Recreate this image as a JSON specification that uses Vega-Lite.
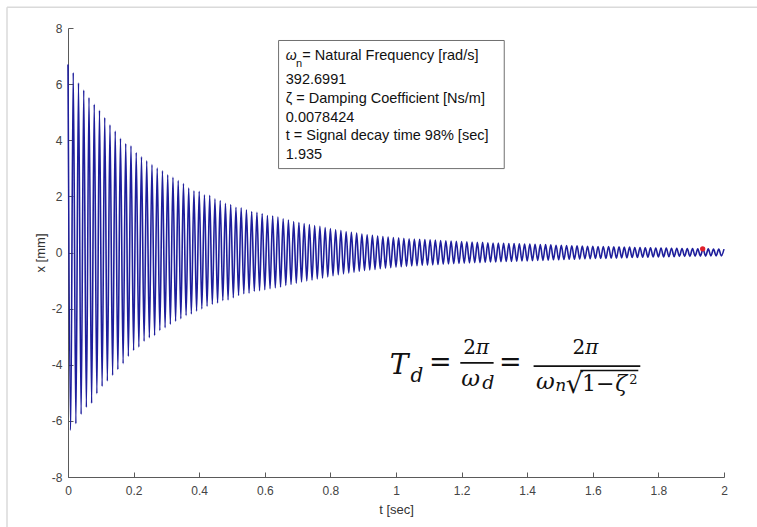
{
  "$schema": "https://vega.github.io/schema/vega-lite/v6.json",
  "width": 656,
  "height": 449,
  "autosize": {"type": "none"},
  "padding": {"left": 68, "top": 28, "right": 33, "bottom": 50},
  "background": "white",
  "config": {"view": {"stroke": null}, "font": "Liberation Sans"},
  "datasets": {
    "signal": [
      {"t":0,"x":6.70},{"t":0.008,"x":-6.34},{"t":0.016,"x":6.41},{"t":0.024,"x":-6.10},{"t":0.032,"x":6.05},{"t":0.040,"x":-5.77},{"t":0.048,"x":5.79},{"t":0.056,"x":-5.52},{"t":0.064,"x":5.52},{"t":0.072,"x":-5.37},
      {"t":0.080,"x":5.28},{"t":0.088,"x":-5.03},{"t":0.096,"x":5.07},{"t":0.104,"x":-4.77},{"t":0.112,"x":4.81},{"t":0.120,"x":-4.58},{"t":0.128,"x":4.55},{"t":0.136,"x":-4.38},{"t":0.144,"x":4.33},{"t":0.152,"x":-4.17},
      {"t":0.160,"x":4.07},{"t":0.168,"x":-3.96},{"t":0.176,"x":3.88},{"t":0.184,"x":-3.70},{"t":0.192,"x":3.80},{"t":0.200,"x":-3.49},{"t":0.208,"x":3.56},{"t":0.216,"x":-3.37},{"t":0.224,"x":3.41},{"t":0.232,"x":-3.16},
      {"t":0.240,"x":3.27},{"t":0.248,"x":-3.04},{"t":0.256,"x":3.13},{"t":0.264,"x":-2.96},{"t":0.272,"x":3.01},{"t":0.280,"x":-2.78},{"t":0.288,"x":2.91},{"t":0.296,"x":-2.68},{"t":0.304,"x":2.77},{"t":0.312,"x":-2.56},
      {"t":0.320,"x":2.68},{"t":0.328,"x":-2.45},{"t":0.336,"x":2.56},{"t":0.344,"x":-2.36},{"t":0.352,"x":2.46},{"t":0.360,"x":-2.25},{"t":0.368,"x":2.30},{"t":0.376,"x":-2.19},{"t":0.384,"x":2.20},{"t":0.392,"x":-2.09},
      {"t":0.400,"x":2.18},{"t":0.408,"x":-2.01},{"t":0.416,"x":2.06},{"t":0.424,"x":-1.92},{"t":0.432,"x":2.04},{"t":0.440,"x":-1.85},{"t":0.448,"x":1.91},{"t":0.456,"x":-1.80},{"t":0.464,"x":1.85},{"t":0.472,"x":-1.71},
      {"t":0.480,"x":1.75},{"t":0.488,"x":-1.69},{"t":0.496,"x":1.71},{"t":0.504,"x":-1.61},{"t":0.512,"x":1.61},{"t":0.520,"x":-1.53},{"t":0.528,"x":1.59},{"t":0.536,"x":-1.47},{"t":0.544,"x":1.52},{"t":0.552,"x":-1.45},
      {"t":0.560,"x":1.46},{"t":0.568,"x":-1.38},{"t":0.576,"x":1.43},{"t":0.584,"x":-1.36},{"t":0.592,"x":1.38},{"t":0.600,"x":-1.33},{"t":0.608,"x":1.32},{"t":0.616,"x":-1.29},{"t":0.624,"x":1.30},{"t":0.632,"x":-1.26},
      {"t":0.640,"x":1.26},{"t":0.648,"x":-1.23},{"t":0.656,"x":1.20},{"t":0.664,"x":-1.17},{"t":0.672,"x":1.16},{"t":0.680,"x":-1.14},{"t":0.688,"x":1.10},{"t":0.696,"x":-1.09},{"t":0.704,"x":1.07},{"t":0.712,"x":-1.05},
      {"t":0.720,"x":1.03},{"t":0.728,"x":-1.01},{"t":0.736,"x":1.00},{"t":0.744,"x":-0.98},{"t":0.752,"x":0.96},{"t":0.760,"x":-0.94},{"t":0.768,"x":0.93},{"t":0.776,"x":-0.91},{"t":0.784,"x":0.89},{"t":0.792,"x":-0.87},
      {"t":0.800,"x":0.85},{"t":0.808,"x":-0.83},{"t":0.816,"x":0.81},{"t":0.824,"x":-0.79},{"t":0.832,"x":0.78},{"t":0.840,"x":-0.76},{"t":0.848,"x":0.74},{"t":0.856,"x":-0.73},{"t":0.864,"x":0.72},{"t":0.872,"x":-0.70},
      {"t":0.880,"x":0.69},{"t":0.888,"x":-0.67},{"t":0.896,"x":0.66},{"t":0.904,"x":-0.64},{"t":0.912,"x":0.63},{"t":0.920,"x":-0.62},{"t":0.928,"x":0.61},{"t":0.936,"x":-0.60},{"t":0.944,"x":0.59},{"t":0.952,"x":-0.58},
      {"t":0.960,"x":0.57},{"t":0.968,"x":-0.56},{"t":0.976,"x":0.55},{"t":0.984,"x":-0.54},{"t":0.992,"x":0.53},{"t":1.000,"x":-0.52},{"t":1.008,"x":0.52},{"t":1.016,"x":-0.51},{"t":1.024,"x":0.51},{"t":1.032,"x":-0.50},
      {"t":1.040,"x":0.49},{"t":1.048,"x":-0.48},{"t":1.056,"x":0.48},{"t":1.064,"x":-0.47},{"t":1.072,"x":0.47},{"t":1.080,"x":-0.46},{"t":1.088,"x":0.46},{"t":1.096,"x":-0.45},{"t":1.104,"x":0.45},{"t":1.112,"x":-0.44},
      {"t":1.120,"x":0.44},{"t":1.128,"x":-0.43},{"t":1.136,"x":0.43},{"t":1.144,"x":-0.42},{"t":1.152,"x":0.42},{"t":1.160,"x":-0.41},{"t":1.168,"x":0.41},{"t":1.176,"x":-0.40},{"t":1.184,"x":0.40},{"t":1.192,"x":-0.39},
      {"t":1.200,"x":0.39},{"t":1.208,"x":-0.38},{"t":1.216,"x":0.38},{"t":1.224,"x":-0.37},{"t":1.232,"x":0.37},{"t":1.240,"x":-0.36},{"t":1.248,"x":0.36},{"t":1.256,"x":-0.36},{"t":1.264,"x":0.36},{"t":1.272,"x":-0.35},
      {"t":1.280,"x":0.35},{"t":1.288,"x":-0.34},{"t":1.296,"x":0.34},{"t":1.304,"x":-0.34},{"t":1.312,"x":0.34},{"t":1.320,"x":-0.33},{"t":1.328,"x":0.33},{"t":1.336,"x":-0.32},{"t":1.344,"x":0.32},{"t":1.352,"x":-0.32},
      {"t":1.360,"x":0.32},{"t":1.368,"x":-0.31},{"t":1.376,"x":0.31},{"t":1.384,"x":-0.30},{"t":1.392,"x":0.30},{"t":1.400,"x":-0.30},{"t":1.408,"x":0.30},{"t":1.416,"x":-0.29},{"t":1.424,"x":0.29},{"t":1.432,"x":-0.28},
      {"t":1.440,"x":0.28},{"t":1.448,"x":-0.28},{"t":1.456,"x":0.28},{"t":1.464,"x":-0.27},{"t":1.472,"x":0.27},{"t":1.480,"x":-0.26},{"t":1.488,"x":0.26},{"t":1.496,"x":-0.26},{"t":1.504,"x":0.26},{"t":1.512,"x":-0.25},
      {"t":1.520,"x":0.25},{"t":1.528,"x":-0.24},{"t":1.536,"x":0.24},{"t":1.544,"x":-0.24},{"t":1.552,"x":0.24},{"t":1.560,"x":-0.23},{"t":1.568,"x":0.23},{"t":1.576,"x":-0.22},{"t":1.584,"x":0.22},{"t":1.592,"x":-0.22},
      {"t":1.600,"x":0.22},{"t":1.608,"x":-0.21},{"t":1.616,"x":0.21},{"t":1.624,"x":-0.21},{"t":1.632,"x":0.21},{"t":1.640,"x":-0.21},{"t":1.648,"x":0.21},{"t":1.656,"x":-0.20},{"t":1.664,"x":0.20},{"t":1.672,"x":-0.20},
      {"t":1.680,"x":0.20},{"t":1.688,"x":-0.19},{"t":1.696,"x":0.19},{"t":1.704,"x":-0.19},{"t":1.712,"x":0.19},{"t":1.720,"x":-0.18},{"t":1.728,"x":0.18},{"t":1.736,"x":-0.18},{"t":1.744,"x":0.18},{"t":1.752,"x":-0.17},
      {"t":1.760,"x":0.17},{"t":1.768,"x":-0.17},{"t":1.776,"x":0.17},{"t":1.784,"x":-0.16},{"t":1.792,"x":0.16},{"t":1.800,"x":-0.16},{"t":1.808,"x":0.16},{"t":1.816,"x":-0.16},{"t":1.824,"x":0.16},{"t":1.832,"x":-0.15},
      {"t":1.840,"x":0.15},{"t":1.848,"x":-0.15},{"t":1.856,"x":0.15},{"t":1.864,"x":-0.14},{"t":1.872,"x":0.14},{"t":1.880,"x":-0.14},{"t":1.888,"x":0.14},{"t":1.896,"x":-0.14},{"t":1.904,"x":0.14},{"t":1.912,"x":-0.13},
      {"t":1.920,"x":0.13},{"t":1.928,"x":-0.13},{"t":1.936,"x":0.13},{"t":1.944,"x":-0.13},{"t":1.952,"x":0.13},{"t":1.960,"x":-0.12},{"t":1.968,"x":0.12},{"t":1.976,"x":-0.12},{"t":1.984,"x":0.12},{"t":1.992,"x":-0.12},
      {"t":2.000,"x":0.12}
    ],
    "marker": [{"t": 1.935, "x": 0.13}],
    "one": [{}]
  },
  "layer": [
    {
      "data": {"name": "signal"},
      "mark": {"type": "line", "interpolate": "monotone", "color": "#1e1e9c", "strokeWidth": 1.6},
      "encoding": {
        "x": {
          "field": "t", "type": "quantitative",
          "scale": {"domain": [0, 2], "nice": false, "zero": false},
          "axis": {
            "title": "t [sec]", "values": [0, 0.2, 0.4, 0.6, 0.8, 1, 1.2, 1.4, 1.6, 1.8, 2],
            "labelExpr": "'' + datum.value", "grid": false, "tickSize": -5,
            "tickColor": "#5a5a5a", "domainColor": "#5a5a5a", "labelColor": "#444444",
            "labelFont": "Liberation Sans", "labelFontSize": 12, "labelPadding": 13, "labelFlush": false,
            "titleFont": "Liberation Sans", "titleFontSize": 13, "titleFontWeight": "normal", "titleColor": "#333333", "titlePadding": 7
          }
        },
        "y": {
          "field": "x", "type": "quantitative",
          "scale": {"domain": [-8, 8], "nice": false, "zero": false},
          "axis": {
            "title": "x [mm]", "values": [-8, -6, -4, -2, 0, 2, 4, 6, 8],
            "labelExpr": "'' + datum.value", "grid": false, "tickSize": -5,
            "tickColor": "#5a5a5a", "domainColor": "#5a5a5a", "labelColor": "#444444",
            "labelFont": "Liberation Sans", "labelFontSize": 12, "labelPadding": 11, "labelFlush": false,
            "titleFont": "Liberation Sans", "titleFontSize": 13, "titleFontWeight": "normal", "titleColor": "#333333", "titlePadding": 4
          }
        }
      }
    },
    {
      "data": {"name": "one"},
      "mark": {"type": "rule", "color": "#dadada", "strokeWidth": 1.5},
      "encoding": {"x": {"datum": -0.186}, "y": {"datum": -10.5}, "y2": {"datum": 8.742}}
    },
    {
      "data": {"name": "one"},
      "mark": {"type": "rule", "color": "#dadada", "strokeWidth": 1.5},
      "encoding": {"x": {"datum": -0.186}, "x2": {"datum": 2.3}, "y": {"datum": 8.742}}
    },
    {
      "data": {"name": "marker"},
      "mark": {"type": "point", "filled": true, "color": "#e0202c", "size": 28, "opacity": 1},
      "encoding": {"x": {"field": "t", "type": "quantitative"}, "y": {"field": "x", "type": "quantitative"}}
    },
    {
      "data": {"name": "one"},
      "mark": {"type": "rect", "fill": "white", "stroke": "#707070", "strokeWidth": 1},
      "encoding": {"x": {"datum": 0.642}, "x2": {"datum": 1.330}, "y": {"datum": 7.555}, "y2": {"datum": 2.99}}
    },
    {
      "data": {"name": "one"},
      "mark": {"type": "text", "text": "ω", "fontStyle": "italic", "align": "left", "baseline": "middle", "font": "Liberation Sans", "fontSize": 14, "color": "#111111"},
      "encoding": {"x": {"datum": 0.664}, "y": {"datum": 7.02}}
    },
    {
      "data": {"name": "one"},
      "mark": {"type": "text", "text": "n", "align": "left", "baseline": "middle", "font": "Liberation Sans", "fontSize": 11, "color": "#111111"},
      "encoding": {"x": {"datum": 0.6955}, "y": {"datum": 6.72}}
    },
    {
      "data": {"name": "one"},
      "mark": {"type": "text", "text": "= Natural Frequency [rad/s]", "align": "left", "baseline": "middle", "font": "Liberation Sans", "fontSize": 14.5, "color": "#111111"},
      "encoding": {"x": {"datum": 0.7145}, "y": {"datum": 7.02}}
    },
    {
      "data": {"name": "one"},
      "mark": {"type": "text", "text": "392.6991", "align": "left", "baseline": "middle", "font": "Liberation Sans", "fontSize": 14.5, "color": "#111111"},
      "encoding": {"x": {"datum": 0.664}, "y": {"datum": 6.155}}
    },
    {
      "data": {"name": "one"},
      "mark": {"type": "text", "text": "ζ = Damping Coefficient [Ns/m]", "align": "left", "baseline": "middle", "font": "Liberation Sans", "fontSize": 14.5, "color": "#111111"},
      "encoding": {"x": {"datum": 0.664}, "y": {"datum": 5.478}}
    },
    {
      "data": {"name": "one"},
      "mark": {"type": "text", "text": "0.0078424", "align": "left", "baseline": "middle", "font": "Liberation Sans", "fontSize": 14.5, "color": "#111111"},
      "encoding": {"x": {"datum": 0.664}, "y": {"datum": 4.80}}
    },
    {
      "data": {"name": "one"},
      "mark": {"type": "text", "text": "t = Signal decay time 98% [sec]", "align": "left", "baseline": "middle", "font": "Liberation Sans", "fontSize": 14.5, "color": "#111111"},
      "encoding": {"x": {"datum": 0.664}, "y": {"datum": 4.134}}
    },
    {
      "data": {"name": "one"},
      "mark": {"type": "text", "text": "1.935", "align": "left", "baseline": "middle", "font": "Liberation Sans", "fontSize": 14.5, "color": "#111111"},
      "encoding": {"x": {"datum": 0.664}, "y": {"datum": 3.49}}
    },
    {
      "data": {"name": "one"},
      "mark": {"type": "text", "text": "T", "fontStyle": "italic", "align": "left", "baseline": "alphabetic", "font": "DejaVu Serif", "fontSize": 28, "color": "#111111"},
      "encoding": {"x": {"datum": 0.981}, "y": {"datum": -4.323}}
    },
    {
      "data": {"name": "one"},
      "mark": {"type": "text", "text": "d", "fontStyle": "italic", "align": "left", "baseline": "alphabetic", "font": "DejaVu Serif", "fontSize": 20, "color": "#111111"},
      "encoding": {"x": {"datum": 1.044}, "y": {"datum": -4.6}}
    },
    {
      "data": {"name": "one"},
      "mark": {"type": "text", "text": "=", "align": "center", "baseline": "alphabetic", "font": "DejaVu Serif", "fontSize": 27, "color": "#111111"},
      "encoding": {"x": {"datum": 1.1351}, "y": {"datum": -4.227}}
    },
    {
      "data": {"name": "one"},
      "mark": {"type": "text", "text": "2", "align": "right", "baseline": "alphabetic", "font": "DejaVu Serif", "fontSize": 20, "color": "#111111"},
      "encoding": {"x": {"datum": 1.2442}, "y": {"datum": -3.61}}
    },
    {
      "data": {"name": "one"},
      "mark": {"type": "text", "text": "π", "fontStyle": "italic", "align": "left", "baseline": "alphabetic", "font": "DejaVu Serif", "fontSize": 20, "color": "#111111"},
      "encoding": {"x": {"datum": 1.2442}, "y": {"datum": -3.61}}
    },
    {
      "data": {"name": "one"},
      "mark": {"type": "rule", "color": "#111111", "strokeWidth": 1.8},
      "encoding": {"x": {"datum": 1.196}, "x2": {"datum": 1.2976}, "y": {"datum": -3.93}}
    },
    {
      "data": {"name": "one"},
      "mark": {"type": "text", "text": "ω", "fontStyle": "italic", "align": "left", "baseline": "alphabetic", "font": "DejaVu Serif", "fontSize": 23, "color": "#111111"},
      "encoding": {"x": {"datum": 1.1991}, "y": {"datum": -4.74}}
    },
    {
      "data": {"name": "one"},
      "mark": {"type": "text", "text": "d", "fontStyle": "italic", "align": "left", "baseline": "alphabetic", "font": "DejaVu Serif", "fontSize": 19, "color": "#111111"},
      "encoding": {"x": {"datum": 1.2631}, "y": {"datum": -4.858}}
    },
    {
      "data": {"name": "one"},
      "mark": {"type": "text", "text": "=", "align": "center", "baseline": "alphabetic", "font": "DejaVu Serif", "fontSize": 27, "color": "#111111"},
      "encoding": {"x": {"datum": 1.3485}, "y": {"datum": -4.227}}
    },
    {
      "data": {"name": "one"},
      "mark": {"type": "text", "text": "2", "align": "right", "baseline": "alphabetic", "font": "DejaVu Serif", "fontSize": 20, "color": "#111111"},
      "encoding": {"x": {"datum": 1.5772}, "y": {"datum": -3.61}}
    },
    {
      "data": {"name": "one"},
      "mark": {"type": "text", "text": "π", "fontStyle": "italic", "align": "left", "baseline": "alphabetic", "font": "DejaVu Serif", "fontSize": 20, "color": "#111111"},
      "encoding": {"x": {"datum": 1.5772}, "y": {"datum": -3.61}}
    },
    {
      "data": {"name": "one"},
      "mark": {"type": "rule", "color": "#111111", "strokeWidth": 1.8},
      "encoding": {"x": {"datum": 1.4195}, "x2": {"datum": 1.7448}, "y": {"datum": -4.052}}
    },
    {
      "data": {"name": "one"},
      "mark": {"type": "text", "text": "ω", "fontStyle": "italic", "align": "left", "baseline": "alphabetic", "font": "DejaVu Serif", "fontSize": 23, "color": "#111111"},
      "encoding": {"x": {"datum": 1.4269}, "y": {"datum": -4.858}}
    },
    {
      "data": {"name": "one"},
      "mark": {"type": "text", "text": "n", "fontStyle": "italic", "align": "left", "baseline": "alphabetic", "font": "DejaVu Serif", "fontSize": 17, "color": "#111111"},
      "encoding": {"x": {"datum": 1.4856}, "y": {"datum": -4.918}}
    },
    {
      "data": {"name": "one"},
      "mark": {"type": "text", "text": "√", "align": "left", "baseline": "alphabetic", "font": "DejaVu Serif", "fontSize": 27, "color": "#111111"},
      "encoding": {"x": {"datum": 1.5172}, "y": {"datum": -4.989}}
    },
    {
      "data": {"name": "one"},
      "mark": {"type": "rule", "color": "#111111", "strokeWidth": 1.5},
      "encoding": {"x": {"datum": 1.5619}, "x2": {"datum": 1.7387}, "y": {"datum": -4.205}}
    },
    {
      "data": {"name": "one"},
      "mark": {"type": "text", "text": "1−", "align": "left", "baseline": "alphabetic", "font": "DejaVu Serif", "fontSize": 22, "color": "#111111"},
      "encoding": {"x": {"datum": 1.5671}, "y": {"datum": -4.918}}
    },
    {
      "data": {"name": "one"},
      "mark": {"type": "text", "text": "ζ", "fontStyle": "italic", "align": "left", "baseline": "alphabetic", "font": "DejaVu Serif", "fontSize": 22, "color": "#111111"},
      "encoding": {"x": {"datum": 1.6686}, "y": {"datum": -4.918}}
    },
    {
      "data": {"name": "one"},
      "mark": {"type": "text", "text": "2", "align": "left", "baseline": "alphabetic", "font": "DejaVu Serif", "fontSize": 13, "color": "#111111"},
      "encoding": {"x": {"datum": 1.7113}, "y": {"datum": -4.669}}
    }
  ]
}
